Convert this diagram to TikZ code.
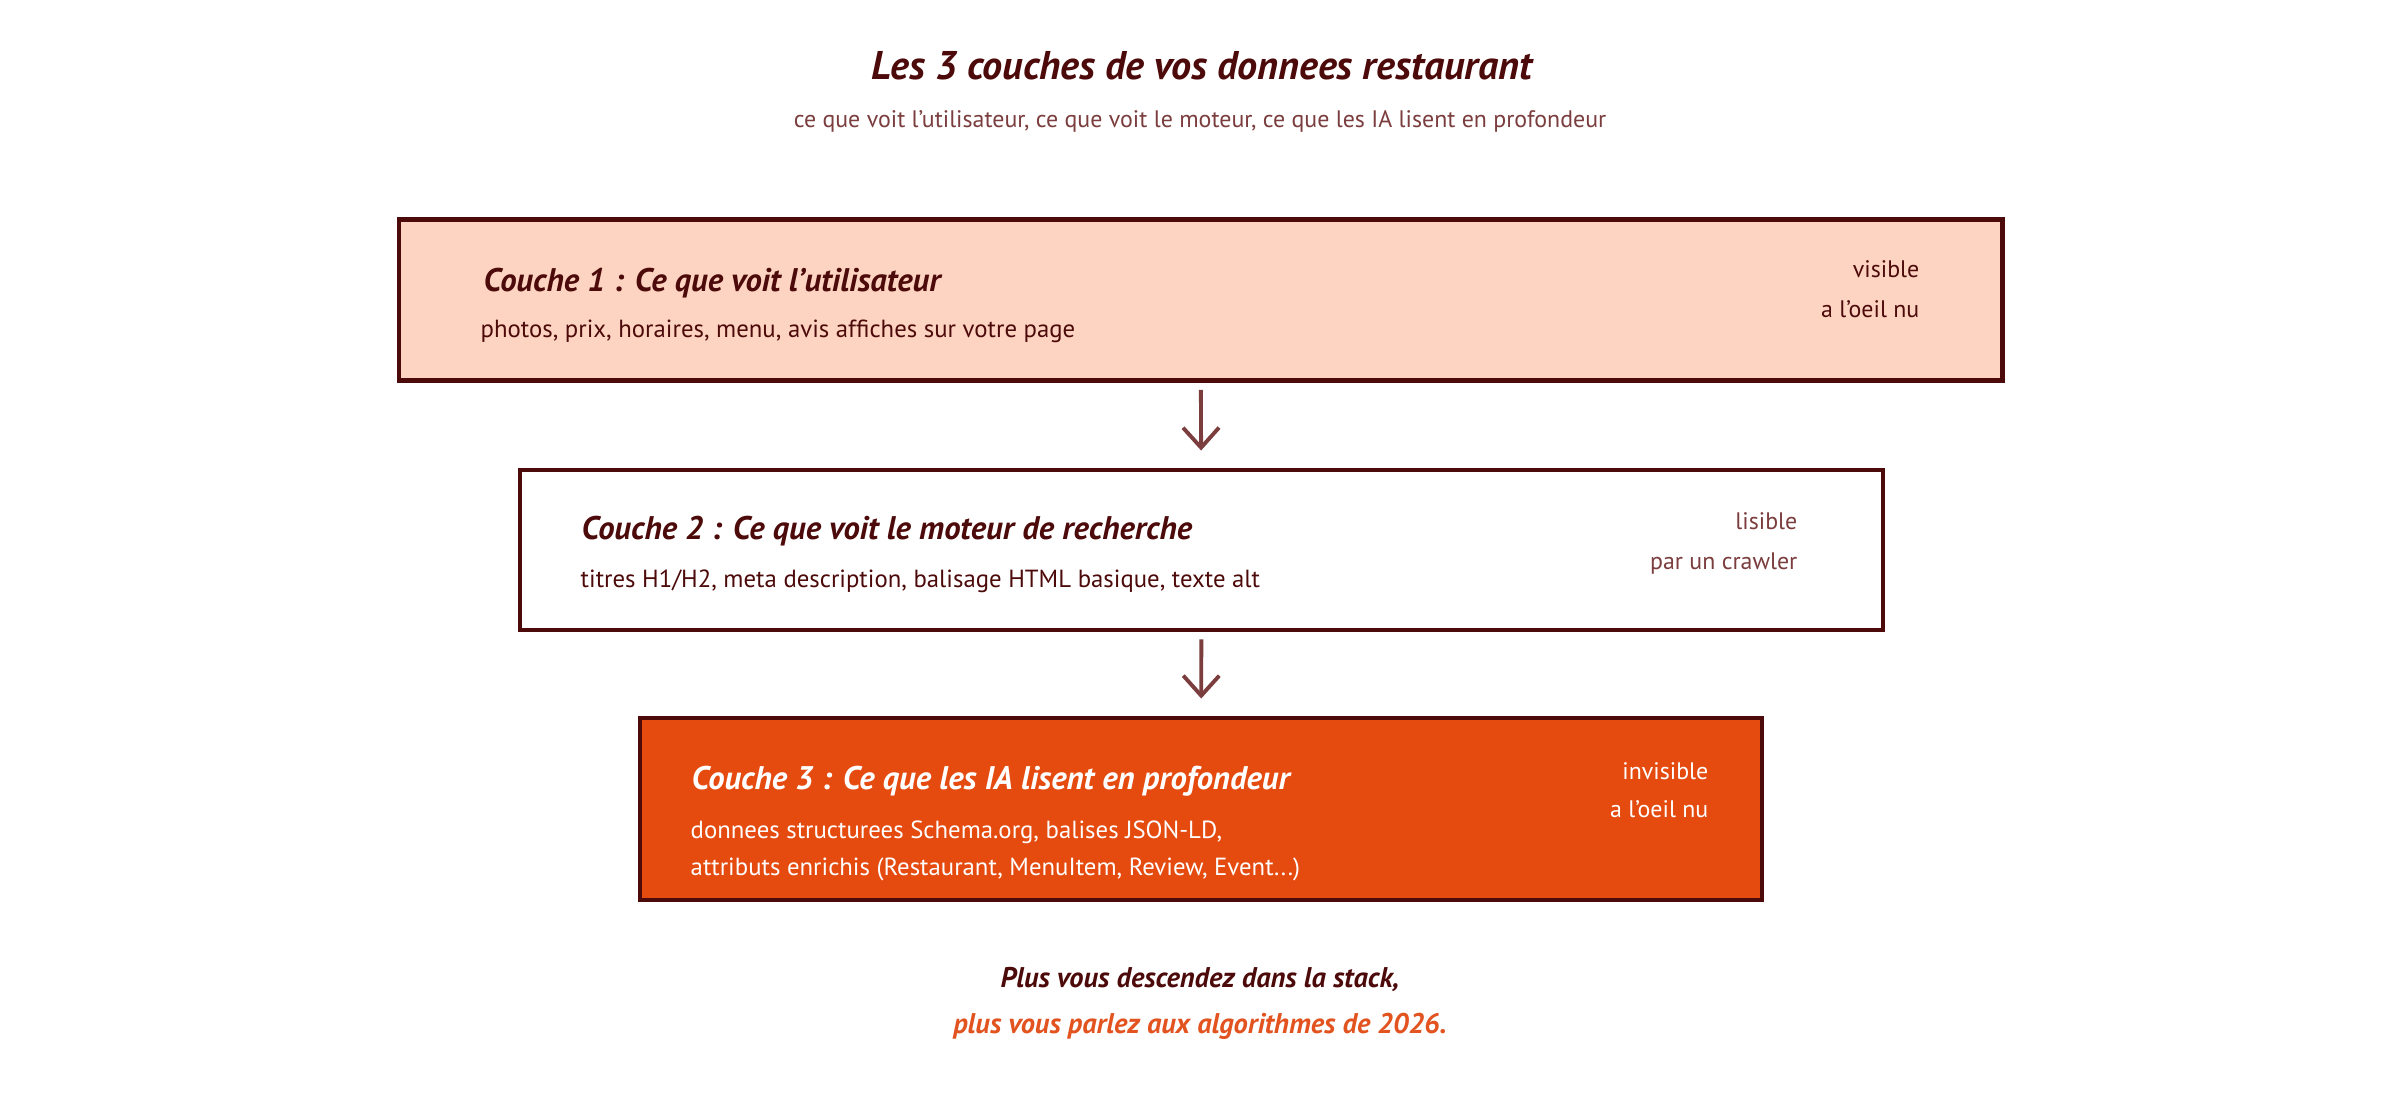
\documentclass[tikz,border=0pt]{standalone}
\usepackage{fontspec}
\setmainfont{PT Sans}
\usetikzlibrary{arrows.meta}
\definecolor{inkdark}{HTML}{4D0A0A}
\definecolor{inksoft}{HTML}{7B3D3D}
\definecolor{peach}{HTML}{FDD4C2}
\definecolor{deeporange}{HTML}{E54A0F}
\definecolor{footorange}{HTML}{E2531F}
\tikzset{
  layerbox/.style={draw=inkdark, line width=1.4pt, rectangle, inner sep=0pt},
  headtext/.style={font=\fontsize{9.3pt}{11pt}\selectfont\bfseries\itshape, inner sep=0pt},
  bodytext/.style={font=\fontsize{7.05pt}{8.5pt}\selectfont, inner sep=0pt},
  sidetext/.style={font=\fontsize{6.8pt}{8pt}\selectfont, inner sep=0pt, anchor=base east},
  foottext/.style={font=\fontsize{8.1pt}{10pt}\selectfont\bfseries\itshape, anchor=base, inner sep=0pt},
  flowarrow/.style={draw=inksoft, line width=1.1pt, -{Straight Barb[length=2mm,width=3.6mm]}, shorten <=0.07cm, shorten >=0.17cm}
}
\begin{document}
\begin{tikzpicture}[x=1cm,y=1cm]
\useasboundingbox[fill=white] (0,0) rectangle (24,11);

% title
\node[font=\fontsize{11.4pt}{13pt}\selectfont\bfseries\itshape, text=inkdark, anchor=base, inner sep=0pt] (title) at (12.02,10.20) {Les 3 couches de vos donnees restaurant};
\node[font=\fontsize{6.8pt}{8pt}\selectfont, text=inksoft, anchor=base, inner sep=0pt] (subtitle) at (12.00,9.72) {ce que voit l'utilisateur, ce que voit le moteur, ce que les IA lisent en profondeur};

% layer 1
\node[layerbox, fill=peach, minimum width=16.03cm, minimum height=1.61cm] (c1) at (12.005,8.00) {};
\node[headtext, text=inkdark, anchor=base west] (c1t) at (4.83,8.08) {Couche 1 : Ce que voit l'utilisateur};
\node[bodytext, text=inkdark, anchor=base west] (c1b) at (4.80,7.62) {photos, prix, horaires, menu, avis affiches sur votre page};
\node[sidetext, text=inkdark] (c1r1) at (19.20,8.22) {visible};
\node[sidetext, text=inkdark] (c1r2) at (19.20,7.82) {a l'oeil nu};

% layer 2
\node[layerbox, fill=white, minimum width=13.63cm, minimum height=1.60cm] (c2) at (12.015,5.50) {};
\node[headtext, text=inkdark, anchor=base west] (c2t) at (5.81,5.60) {Couche 2 : Ce que voit le moteur de recherche};
\node[bodytext, text=inkdark, anchor=base west] (c2b) at (5.80,5.12) {titres H1/H2, meta description, balisage HTML basique, texte alt};
\node[sidetext, text=inksoft] (c2r1) at (17.98,5.70) {lisible};
\node[sidetext, text=inksoft] (c2r2) at (17.98,5.30) {par un crawler};

% layer 3
\node[layerbox, fill=deeporange, minimum width=11.22cm, minimum height=1.82cm] (c3) at (12.01,2.91) {};
\node[headtext, text=white, anchor=base west] (c3t) at (6.91,3.10) {Couche 3 : Ce que les IA lisent en profondeur};
\node[bodytext, text=white, anchor=base west] (c3b1) at (6.90,2.62) {donnees structurees Schema.org, balises JSON-LD,};
\node[bodytext, text=white, anchor=base west] (c3b2) at (6.90,2.25) {attributs enrichis (Restaurant, MenuItem, Review, Event...)};
\node[sidetext, text=white] (c3r1) at (17.09,3.20) {invisible};
\node[sidetext, text=white] (c3r2) at (17.09,2.82) {a l'oeil nu};

% arrows
\draw[flowarrow] (c1) -- (c2);
\draw[flowarrow] (c2) -- (c3);

% footer
\node[foottext, text=inkdark] (foot1) at (12.00,1.13) {Plus vous descendez dans la stack,};
\node[foottext, text=footorange] (foot2) at (12.00,0.67) {plus vous parlez aux algorithmes de 2026.};
\end{tikzpicture}
\end{document}
